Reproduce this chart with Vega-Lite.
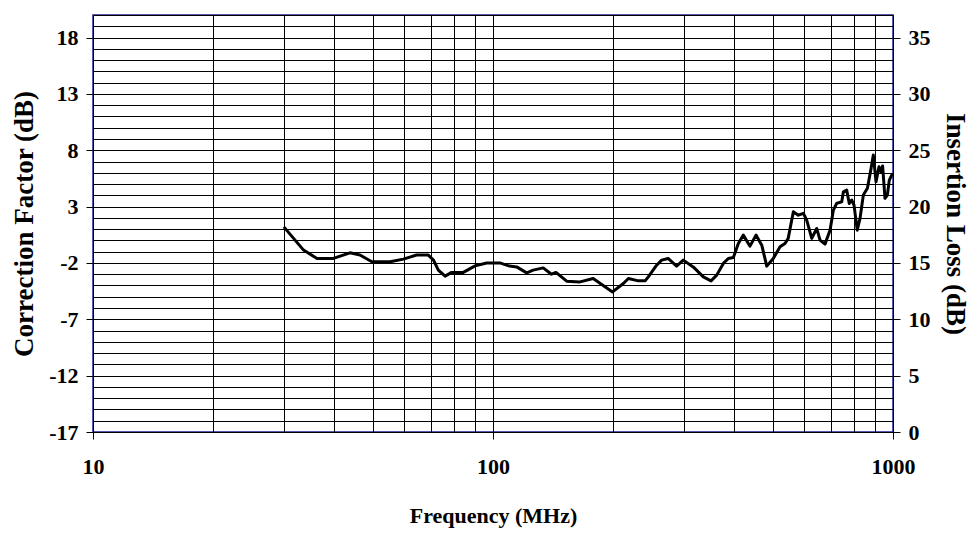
{
  "$schema": "https://vega.github.io/schema/vega-lite/v6.json",
  "width": 800,
  "height": 417,
  "autosize": {"type": "none"},
  "padding": {"left": 93, "top": 15, "right": 77, "bottom": 104},
  "background": "white",
  "config": {
    "view": {"stroke": "#20209a", "strokeWidth": 1.5},
    "font": "Liberation Serif",
    "axis": {
      "labelFont": "Liberation Serif",
      "labelFontWeight": "bold",
      "labelFontSize": 22,
      "labelColor": "black",
      "titleFont": "Liberation Serif",
      "titleFontWeight": "bold",
      "titleColor": "black",
      "tickColor": "black",
      "tickSize": 7,
      "domain": false,
      "labelOverlap": false,
      "labelFlush": false
    }
  },
  "data": {
    "values": [
      {"f": 30, "cf": 1.2}, {"f": 33.6, "cf": -0.86}, {"f": 36.3, "cf": -1.6}, {"f": 39.9, "cf": -1.6},
      {"f": 43.9, "cf": -1.1}, {"f": 46.5, "cf": -1.3}, {"f": 49.8, "cf": -1.9}, {"f": 55.3, "cf": -1.9},
      {"f": 59.7, "cf": -1.66}, {"f": 64.4, "cf": -1.3}, {"f": 68.9, "cf": -1.3}, {"f": 71, "cf": -1.75},
      {"f": 73, "cf": -2.64}, {"f": 75.9, "cf": -3.17}, {"f": 78.8, "cf": -2.84}, {"f": 84.3, "cf": -2.84},
      {"f": 90.2, "cf": -2.26}, {"f": 96.4, "cf": -2.0}, {"f": 104, "cf": -2.0}, {"f": 110, "cf": -2.28},
      {"f": 114.6, "cf": -2.35}, {"f": 121.4, "cf": -2.88}, {"f": 126, "cf": -2.64}, {"f": 133.5, "cf": -2.44},
      {"f": 140, "cf": -3.0}, {"f": 143.7, "cf": -2.84}, {"f": 152.8, "cf": -3.62}, {"f": 165, "cf": -3.68},
      {"f": 178, "cf": -3.38}, {"f": 190.5, "cf": -4.12}, {"f": 199, "cf": -4.57}, {"f": 211.8, "cf": -3.82},
      {"f": 218, "cf": -3.38}, {"f": 230.9, "cf": -3.59}, {"f": 240, "cf": -3.59}, {"f": 244.5, "cf": -3.24},
      {"f": 256.5, "cf": -2.2}, {"f": 264, "cf": -1.75}, {"f": 274, "cf": -1.6}, {"f": 287.7, "cf": -2.28},
      {"f": 299, "cf": -1.75}, {"f": 316.6, "cf": -2.35}, {"f": 335.6, "cf": -3.24}, {"f": 350.8, "cf": -3.59},
      {"f": 362.5, "cf": -3.08}, {"f": 376.6, "cf": -2.04}, {"f": 387.5, "cf": -1.6}, {"f": 399, "cf": -1.51},
      {"f": 410.5, "cf": -0.27}, {"f": 422.5, "cf": 0.47}, {"f": 439, "cf": -0.51}, {"f": 454.5, "cf": 0.47},
      {"f": 469.8, "cf": -0.42}, {"f": 483.5, "cf": -2.28}, {"f": 502, "cf": -1.6}, {"f": 521.9, "cf": -0.57},
      {"f": 537, "cf": -0.27}, {"f": 547, "cf": 0.18}, {"f": 563.5, "cf": 2.54}, {"f": 579.8, "cf": 2.24},
      {"f": 597, "cf": 2.4}, {"f": 608.5, "cf": 1.8}, {"f": 626.5, "cf": 0.18}, {"f": 644.5, "cf": 1.06},
      {"f": 657, "cf": 0.02}, {"f": 676, "cf": -0.33}, {"f": 696, "cf": 0.91}, {"f": 709.5, "cf": 2.69},
      {"f": 723, "cf": 3.28}, {"f": 744.5, "cf": 3.43}, {"f": 751.6, "cf": 4.31}, {"f": 766, "cf": 4.46},
      {"f": 777.5, "cf": 3.28}, {"f": 788.5, "cf": 3.58}, {"f": 799, "cf": 3.13}, {"f": 814, "cf": 0.91},
      {"f": 827, "cf": 1.95}, {"f": 843, "cf": 4.02}, {"f": 863, "cf": 4.62}, {"f": 880, "cf": 6.24},
      {"f": 893, "cf": 7.57}, {"f": 907, "cf": 5.2}, {"f": 922.6, "cf": 6.53}, {"f": 933, "cf": 6.09},
      {"f": 942, "cf": 6.6}, {"f": 955, "cf": 3.73}, {"f": 968, "cf": 4.02}, {"f": 979, "cf": 5.35},
      {"f": 998, "cf": 5.95}
    ]
  },
  "layer": [
    {
      "mark": {"type": "line", "color": "black", "strokeWidth": 3, "strokeJoin": "round", "clip": true},
      "encoding": {
        "x": {
          "field": "f",
          "type": "quantitative",
          "scale": {"type": "log", "domain": [10, 1000], "nice": false},
          "axis": {
            "title": "Frequency (MHz)",
            "titleFontSize": 22,
            "titlePadding": 28,
            "labelPadding": 17,
            "format": "d",
            "values": [10, 20, 30, 40, 50, 60, 70, 80, 90, 100, 200, 300, 400, 500, 600, 700, 800, 900, 1000],
            "labelExpr": "indexof([10, 100, 1000], datum.value) >= 0 ? datum.label : ''",
            "tickOpacity": {"condition": {"test": "indexof([10, 100, 1000], datum.value) >= 0", "value": 1}, "value": 0},
            "grid": true,
            "gridColor": "black",
            "gridWidth": 1,
            "gridOpacity": 1
          }
        },
        "y": {
          "field": "cf",
          "type": "quantitative",
          "scale": {"domain": [-17, 20], "nice": false, "zero": false},
          "axis": {
            "title": "Correction Factor (dB)",
            "titleFontSize": 27,
            "titlePadding": 10,
            "labelPadding": 8,
            "values": [-17, -16, -15, -14, -13, -12, -11, -10, -9, -8, -7, -6, -5, -4, -3, -2, -1, 0, 1, 2, 3, 4, 5, 6, 7, 8, 9, 10, 11, 12, 13, 14, 15, 16, 17, 18, 19, 20],
            "labelExpr": "(datum.value + 17) % 5 == 0 ? '' + datum.value : ''",
            "tickOpacity": {"condition": {"test": "(datum.value + 17) % 5 == 0", "value": 1}, "value": 0},
            "grid": true,
            "gridColor": "black",
            "gridWidth": 1,
            "gridOpacity": 1
          }
        }
      }
    },
    {
      "mark": {"type": "rule", "opacity": 0},
      "encoding": {
        "y": {
          "datum": 0,
          "type": "quantitative",
          "scale": {"domain": [0, 37], "nice": false, "zero": false},
          "axis": {
            "orient": "right",
            "title": "Insertion Loss (dB)",
            "titleFontSize": 27,
            "titlePadding": 10,
            "labelPadding": 8,
            "values": [0, 5, 10, 15, 20, 25, 30, 35],
            "grid": false
          }
        }
      }
    }
  ],
  "resolve": {"scale": {"y": "independent"}}
}
